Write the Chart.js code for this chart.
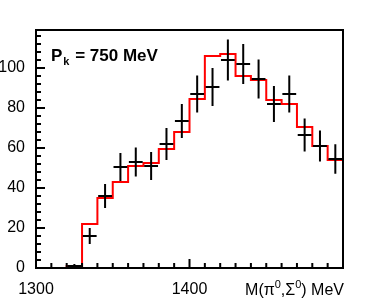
<!DOCTYPE html>
<html>
<head>
<meta charset="utf-8">
<script src="https://cdn.jsdelivr.net/npm/chart.js@4"></script>
<style>
  body { margin: 0; background: #fff; }
</style>
</head>
<body>
<canvas id="histchart" width="369" height="298"></canvas>
<script>
// bins of 10 MeV, left edges
var binLow = [1300, 1310, 1320, 1330, 1340, 1350, 1360, 1370, 1380, 1390,
              1400, 1410, 1420, 1430, 1440, 1450, 1460, 1470, 1480, 1490];
var binCenter = [1305, 1315, 1325, 1335, 1345, 1355, 1365, 1375, 1385, 1395,
                 1405, 1415, 1425, 1435, 1445, 1455, 1465, 1475, 1485, 1495];
// red histogram (simulation)
var simCounts = [0, 0, 1, 22, 35, 43, 51, 52.5, 59.5, 68,
                 84.5, 106, 107, 96, 94, 84, 82, 70.5, 61, 54];
// black crosses (data)
var dataCounts = [null, null, 1, 16, 36, 50.5, 53, 51, 62, 73.5,
                  87, 90.5, 104, 102, 94.5, 82, 87, 66.5, 61, 54.5];
var dataErrors = [0, 0, 1, 4, 6, 7, 7.3, 7, 8, 8.5,
                  9.3, 9.5, 10.2, 10, 9.7, 9, 9.3, 8.2, 7.8, 7.4];
var xTickLabels = ['1300', '1400'];

var stepPoints = binLow.map(function (x, i) { return { x: x, y: simCounts[i] }; });
stepPoints.push({ x: 1500, y: simCounts[simCounts.length - 1] });

var framePlugin = {
    id: 'frame',
    afterDatasetsDraw: function (chart) {
        var ctx = chart.ctx, a = chart.chartArea;
        var xs = chart.scales.x, ys = chart.scales.y;
        ctx.save();
        // data crosses
        ctx.strokeStyle = '#000';
        ctx.lineWidth = 2;
        binCenter.forEach(function (c, i) {
            var v = dataCounts[i];
            if (v === null) return;
            var px = xs.getPixelForValue(c), py = ys.getPixelForValue(v);
            ctx.beginPath();
            ctx.moveTo(px, ys.getPixelForValue(Math.max(0, v - dataErrors[i])));
            ctx.lineTo(px, ys.getPixelForValue(v + dataErrors[i]));
            ctx.moveTo(xs.getPixelForValue(c - 4.5), py);
            ctx.lineTo(xs.getPixelForValue(c + 4.5), py);
            ctx.stroke();
        });
        // frame
        ctx.strokeRect(a.left, a.top, a.right - a.left, a.bottom - a.top);
        // ticks on left and bottom axis
        ctx.beginPath();
        for (var v = 0; v <= 119; v += 4) {
            var py = ys.getPixelForValue(v);
            ctx.moveTo(a.left, py);
            ctx.lineTo(a.left + (v % 20 === 0 ? 9 : 5), py);
        }
        for (var m = 1300; m <= 1500; m += 10) {
            var px = xs.getPixelForValue(m);
            ctx.moveTo(px, a.bottom);
            ctx.lineTo(px, a.bottom - (m % 100 === 0 ? 9 : 5));
        }
        ctx.stroke();
        // label inside plot
        ctx.fillStyle = '#000';
        ctx.textBaseline = 'alphabetic';
        ctx.font = 'bold 17px "Liberation Sans"';
        ctx.fillText('P', 51, 61);
        var wP = ctx.measureText('P').width;
        ctx.font = 'bold 11px "Liberation Sans"';
        ctx.fillText('k', 51 + wP + 1, 65);
        var wk = ctx.measureText('k').width;
        ctx.font = 'bold 17px "Liberation Sans"';
        ctx.fillText(' = 750 MeV', 51 + wP + wk + 2, 61);
        // axis title
        ctx.textAlign = 'right';
        var parts = [['MeV', 16, 0], [') ', 16, 0], ['0', 11, -7], ['\u03A3', 16, 0],
                     [',', 16, 0], ['0', 11, -7], ['\u03C0', 16, 0], ['M(', 16, 0]];
        var xr = a.right + 1;
        parts.forEach(function (p) {
            ctx.font = p[1] + 'px "Liberation Sans"';
            ctx.fillText(p[0], xr, 295 + p[2]);
            xr -= ctx.measureText(p[0]).width;
        });
        ctx.restore();
    }
};

var chart1 = document.getElementById('histchart');
var myChart1 = new Chart(chart1, {
    type: 'line',
    data: {
        datasets: [{
            data: stepPoints,
            stepped: 'before',
            borderColor: '#ff0000',
            borderWidth: 2,
            pointRadius: 0,
            fill: false
        }]
    },
    options: {
        responsive: false,
        animation: false,
        layout: { padding: { top: 30, right: 26, left: 0, bottom: 0 } },
        plugins: {
            legend: { display: false },
            tooltip: { enabled: false }
        },
        scales: {
            x: {
                type: 'linear',
                min: 1300,
                max: 1500,
                grid: { display: false },
                border: { display: false },
                afterFit: function (s) { s.height = 30; },
                ticks: {
                    stepSize: 100,
                    padding: 4,
                    maxRotation: 0,
                    color: '#000',
                    font: { family: 'Liberation Sans', size: 16 },
                    callback: function (v) { return xTickLabels.indexOf(String(v)) >= 0 ? String(v) : ''; }
                }
            },
            y: {
                min: 0,
                max: 119,
                grid: { display: false },
                border: { display: false },
                afterFit: function (s) { s.width = 36; },
                ticks: {
                    stepSize: 20,
                    includeBounds: false,
                    padding: 3,
                    color: '#000',
                    font: { family: 'Liberation Sans', size: 16 },
                    callback: function (v) { return v % 20 === 0 ? v : ''; }
                }
            }
        }
    },
    plugins: [framePlugin]
});
</script>
</body>
</html>
